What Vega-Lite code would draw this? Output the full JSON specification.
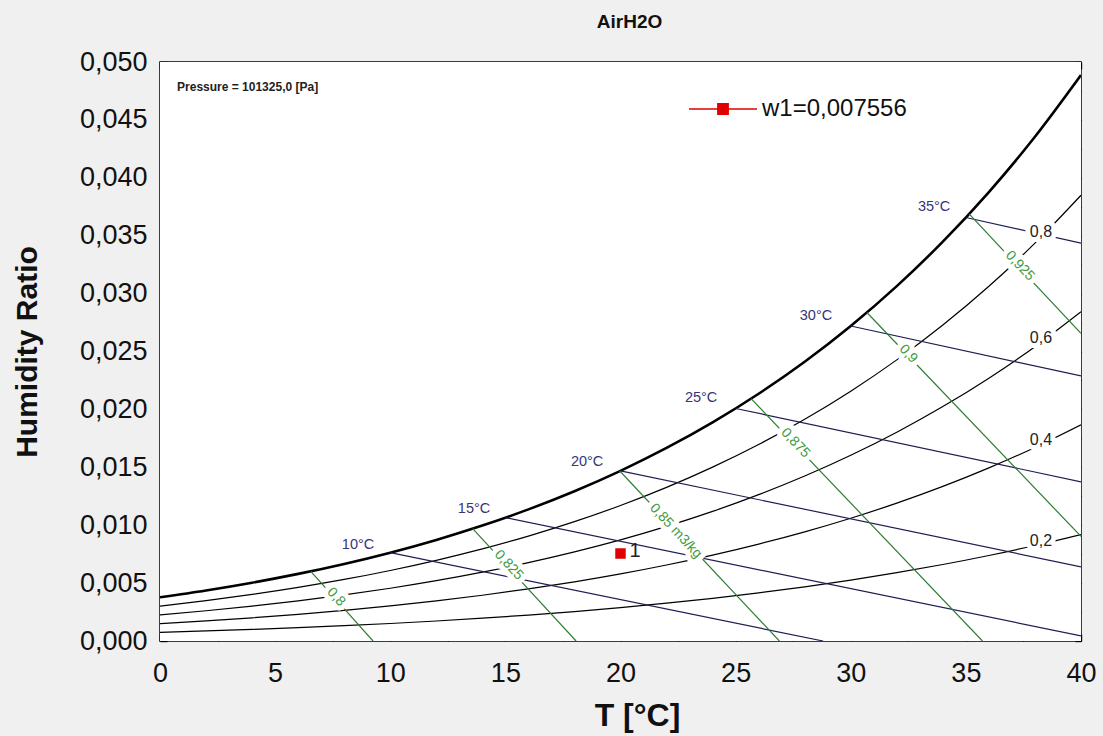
{
  "$schema": "https://vega.github.io/schema/vega-lite/v6.json",
  "width": 921,
  "height": 579,
  "autosize": {"type": "none"},
  "padding": {"left": 160, "top": 62, "right": 22, "bottom": 95},
  "background": "#f0f0f0",
  "title": {"text": "AirH2O", "fontSize": 19, "fontWeight": "bold", "font": "Liberation Sans", "color": "#111111", "anchor": "middle", "offset": 16, "dx": 9},
  "config": {
    "font": "Liberation Sans",
    "view": {"fill": null, "stroke": "black", "strokeWidth": 1.5},
    "axis": {"domain": false, "grid": false, "ticks": true, "zindex": 1, "labelFont": "Liberation Sans", "labelColor": "#111111", "labelFontSize": 27, "tickColor": "black", "tickOpacity": 1, "tickWidth": 1.4, "titleFont": "Liberation Sans", "titleColor": "#111111", "titleFontWeight": "bold", "labelFlush": false, "labelOverlap": false}
  },
  "datasets": {
    "plotArea": [
      {"T0": 0, "T1": 40, "w0": 0, "w1": 0.05}
    ],
    "sat": [
      {"T": 0, "w": 0.003775}, {"T": 2, "w": 0.004364}, {"T": 4, "w": 0.005034}, {"T": 6, "w": 0.005796},
      {"T": 8, "w": 0.006657}, {"T": 10, "w": 0.007631}, {"T": 12, "w": 0.008732}, {"T": 14, "w": 0.009972},
      {"T": 16, "w": 0.011367}, {"T": 18, "w": 0.012936}, {"T": 20, "w": 0.014696}, {"T": 22, "w": 0.016670},
      {"T": 24, "w": 0.018880}, {"T": 26, "w": 0.021352}, {"T": 28, "w": 0.024115}, {"T": 30, "w": 0.027202},
      {"T": 32, "w": 0.030646}, {"T": 34, "w": 0.034487}, {"T": 36, "w": 0.038770}, {"T": 38, "w": 0.043542},
      {"T": 40, "w": 0.048872}
    ],
    "rh": [
      {"rh": "0.2", "T": 0, "w": 0.000751}, {"rh": "0.2", "T": 2, "w": 0.000868}, {"rh": "0.2", "T": 4, "w": 0.001000},
      {"rh": "0.2", "T": 6, "w": 0.001151}, {"rh": "0.2", "T": 8, "w": 0.001320}, {"rh": "0.2", "T": 10, "w": 0.001511},
      {"rh": "0.2", "T": 12, "w": 0.001727}, {"rh": "0.2", "T": 14, "w": 0.001969}, {"rh": "0.2", "T": 16, "w": 0.002241},
      {"rh": "0.2", "T": 18, "w": 0.002545}, {"rh": "0.2", "T": 20, "w": 0.002885}, {"rh": "0.2", "T": 22, "w": 0.003264},
      {"rh": "0.2", "T": 24, "w": 0.003687}, {"rh": "0.2", "T": 26, "w": 0.004156}, {"rh": "0.2", "T": 28, "w": 0.004678},
      {"rh": "0.2", "T": 30, "w": 0.005256}, {"rh": "0.2", "T": 32, "w": 0.005897}, {"rh": "0.2", "T": 34, "w": 0.006605},
      {"rh": "0.2", "T": 36, "w": 0.007386}, {"rh": "0.2", "T": 38, "w": 0.008247}, {"rh": "0.2", "T": 40, "w": 0.009196},
      {"rh": "0.4", "T": 0, "w": 0.001504}, {"rh": "0.4", "T": 2, "w": 0.001738}, {"rh": "0.4", "T": 4, "w": 0.002004},
      {"rh": "0.4", "T": 6, "w": 0.002305}, {"rh": "0.4", "T": 8, "w": 0.002646}, {"rh": "0.4", "T": 10, "w": 0.003030},
      {"rh": "0.4", "T": 12, "w": 0.003463}, {"rh": "0.4", "T": 14, "w": 0.003951}, {"rh": "0.4", "T": 16, "w": 0.004498},
      {"rh": "0.4", "T": 18, "w": 0.005111}, {"rh": "0.4", "T": 20, "w": 0.005796}, {"rh": "0.4", "T": 22, "w": 0.006562},
      {"rh": "0.4", "T": 24, "w": 0.007417}, {"rh": "0.4", "T": 26, "w": 0.008369}, {"rh": "0.4", "T": 28, "w": 0.009427},
      {"rh": "0.4", "T": 30, "w": 0.010602}, {"rh": "0.4", "T": 32, "w": 0.011906}, {"rh": "0.4", "T": 34, "w": 0.013351},
      {"rh": "0.4", "T": 36, "w": 0.014949}, {"rh": "0.4", "T": 38, "w": 0.016715}, {"rh": "0.4", "T": 40, "w": 0.018669},
      {"rh": "0.6", "T": 0, "w": 0.002259}, {"rh": "0.6", "T": 2, "w": 0.002611}, {"rh": "0.6", "T": 4, "w": 0.003011},
      {"rh": "0.6", "T": 6, "w": 0.003464}, {"rh": "0.6", "T": 8, "w": 0.003977}, {"rh": "0.6", "T": 10, "w": 0.004556},
      {"rh": "0.6", "T": 12, "w": 0.005210}, {"rh": "0.6", "T": 14, "w": 0.005945}, {"rh": "0.6", "T": 16, "w": 0.006771},
      {"rh": "0.6", "T": 18, "w": 0.007698}, {"rh": "0.6", "T": 20, "w": 0.008735}, {"rh": "0.6", "T": 22, "w": 0.009896},
      {"rh": "0.6", "T": 24, "w": 0.011192}, {"rh": "0.6", "T": 26, "w": 0.012638}, {"rh": "0.6", "T": 28, "w": 0.014248},
      {"rh": "0.6", "T": 30, "w": 0.016040}, {"rh": "0.6", "T": 32, "w": 0.018032}, {"rh": "0.6", "T": 34, "w": 0.020243},
      {"rh": "0.6", "T": 36, "w": 0.022696}, {"rh": "0.6", "T": 38, "w": 0.025414}, {"rh": "0.6", "T": 40, "w": 0.028430},
      {"rh": "0.8", "T": 0, "w": 0.003016}, {"rh": "0.8", "T": 2, "w": 0.003487}, {"rh": "0.8", "T": 4, "w": 0.004021},
      {"rh": "0.8", "T": 6, "w": 0.004628}, {"rh": "0.8", "T": 8, "w": 0.005314}, {"rh": "0.8", "T": 10, "w": 0.006090},
      {"rh": "0.8", "T": 12, "w": 0.006966}, {"rh": "0.8", "T": 14, "w": 0.007952}, {"rh": "0.8", "T": 16, "w": 0.009061},
      {"rh": "0.8", "T": 18, "w": 0.010306}, {"rh": "0.8", "T": 20, "w": 0.011702}, {"rh": "0.8", "T": 22, "w": 0.013265},
      {"rh": "0.8", "T": 24, "w": 0.015013}, {"rh": "0.8", "T": 26, "w": 0.016965}, {"rh": "0.8", "T": 28, "w": 0.019144},
      {"rh": "0.8", "T": 30, "w": 0.021572}, {"rh": "0.8", "T": 32, "w": 0.024277}, {"rh": "0.8", "T": 34, "w": 0.027287},
      {"rh": "0.8", "T": 36, "w": 0.030634}, {"rh": "0.8", "T": 38, "w": 0.034353}, {"rh": "0.8", "T": 40, "w": 0.038493}
    ],
    "wb": [
      {"wb": 10, "T": 10, "w": 0.007631}, {"wb": 10, "T": 28.8, "w": 0},
      {"wb": 15, "T": 15, "w": 0.010649}, {"wb": 15, "T": 40, "w": 0.000443},
      {"wb": 20, "T": 20, "w": 0.014696}, {"wb": 20, "T": 40, "w": 0.006402},
      {"wb": 25, "T": 25, "w": 0.020081}, {"wb": 25, "T": 40, "w": 0.013748},
      {"wb": 30, "T": 30, "w": 0.027202}, {"wb": 30, "T": 40, "w": 0.02289},
      {"wb": 35, "T": 35, "w": 0.036571}, {"wb": 35, "T": 40, "w": 0.03436}
    ],
    "vol": [
      {"v": 0.8, "T": 6.55, "w": 0.00602}, {"v": 0.8, "T": 9.25, "w": 0},
      {"v": 0.825, "T": 13.58, "w": 0.0097}, {"v": 0.825, "T": 18.07, "w": 0},
      {"v": 0.85, "T": 19.97, "w": 0.01468}, {"v": 0.85, "T": 26.9, "w": 0},
      {"v": 0.875, "T": 25.67, "w": 0.02093}, {"v": 0.875, "T": 35.72, "w": 0},
      {"v": 0.9, "T": 30.7, "w": 0.02837}, {"v": 0.9, "T": 40, "w": 0.00903},
      {"v": 0.925, "T": 35.14, "w": 0.03688}, {"v": 0.925, "T": 40, "w": 0.02656}
    ],
    "wbLabels": [
      {"T": 8.6, "w": 0.00829, "text": "10°C"},
      {"T": 13.64, "w": 0.0114, "text": "15°C"},
      {"T": 18.55, "w": 0.01546, "text": "20°C"},
      {"T": 23.5, "w": 0.02099, "text": "25°C"},
      {"T": 28.49, "w": 0.02807, "text": "30°C"},
      {"T": 33.62, "w": 0.03748, "text": "35°C"}
    ],
    "rhLabels": [
      {"T": 38.26, "w": 0.03532, "text": "0,8"},
      {"T": 38.26, "w": 0.02617, "text": "0,6"},
      {"T": 38.26, "w": 0.01736, "text": "0,4"},
      {"T": 38.26, "w": 0.00864, "text": "0,2"}
    ],
    "volLabels": [
      {"T": 7.65, "w": 0.0038, "text": "0,8"},
      {"T": 15.15, "w": 0.00656, "text": "0,825"},
      {"T": 22.4, "w": 0.0095, "text": "0,85 m3/kg"},
      {"T": 27.6, "w": 0.0171, "text": "0,875"},
      {"T": 32.5, "w": 0.02479, "text": "0,9"},
      {"T": 37.35, "w": 0.03239, "text": "0,925"}
    ],
    "state": [
      {"T": 20, "w": 0.007556, "name": "w1=0,007556", "label": "1"}
    ],
    "note": [
      {"T": 0.74, "w": 0.04784, "text": "Pressure = 101325,0 [Pa]"}
    ]
  },
  "resolve": {"axis": {"x": "independent", "y": "independent"}},
  "layer": [
    {
      "data": {"name": "plotArea"},
      "mark": {"type": "rect", "color": "white", "opacity": 1},
      "encoding": {
        "x": {"field": "T0", "type": "quantitative", "axis": null},
        "x2": {"field": "T1"},
        "y": {"field": "w0", "type": "quantitative", "axis": null},
        "y2": {"field": "w1"}
      }
    },
    {
      "data": {"name": "sat"},
      "mark": {"type": "line", "color": "#000000", "strokeWidth": 2.6, "interpolate": "monotone", "clip": true},
      "encoding": {
        "x": {"field": "T", "type": "quantitative", "scale": {"domain": [0, 40], "nice": false, "zero": false},
          "axis": {"orient": "bottom", "values": [0, 5, 10, 15, 20, 25, 30, 35, 40], "format": "d", "tickSize": 7, "offset": -7,
            "labelPadding": 19, "title": "T [°C]", "titleFontSize": 32, "titlePadding": 14, "titleX": 477}},
        "y": {"field": "w", "type": "quantitative", "scale": {"domain": [0, 0.05], "nice": false, "zero": false},
          "axis": {"orient": "left", "values": [0, 0.005, 0.01, 0.015, 0.02, 0.025, 0.03, 0.035, 0.04, 0.045, 0.05],
            "labelExpr": "replace(format(datum.value, '.3f'), '.', ',')", "tickSize": 7, "offset": -7,
            "labelPadding": 13, "title": "Humidity Ratio", "titleFontSize": 30, "titlePadding": 37}}
      }
    },
    {
      "data": {"name": "rh"},
      "mark": {"type": "line", "color": "#000000", "strokeWidth": 1.2, "interpolate": "monotone", "clip": true},
      "encoding": {
        "x": {"field": "T", "type": "quantitative",
          "axis": {"orient": "top", "values": [0, 2.5, 5, 7.5, 10, 12.5, 15, 17.5, 20, 22.5, 25, 27.5, 30, 32.5, 35, 37.5, 40], "labels": false, "title": null, "tickSize": 7, "offset": -7}},
        "y": {"field": "w", "type": "quantitative",
          "axis": {"orient": "right", "values": [0, 0.0025, 0.005, 0.0075, 0.01, 0.0125, 0.015, 0.0175, 0.02, 0.0225, 0.025, 0.0275, 0.03, 0.0325, 0.035, 0.0375, 0.04, 0.0425, 0.045, 0.0475, 0.05], "labels": false, "title": null, "tickSize": 6, "offset": -6}},
        "detail": {"field": "rh"}
      }
    },
    {
      "data": {"name": "wb"},
      "mark": {"type": "line", "color": "#1e1e55", "strokeWidth": 1.2, "clip": true},
      "encoding": {
        "x": {"field": "T", "type": "quantitative",
          "axis": {"orient": "bottom", "values": [2.5, 7.5, 12.5, 17.5, 22.5, 27.5, 32.5, 37.5], "labels": false, "title": null, "tickSize": 4, "offset": -4}},
        "y": {"field": "w", "type": "quantitative",
          "axis": {"orient": "left", "values": [0.0025, 0.0075, 0.0125, 0.0175, 0.0225, 0.0275, 0.0325, 0.0375, 0.0425, 0.0475], "labels": false, "title": null, "tickSize": 4, "offset": -4}},
        "detail": {"field": "wb"}
      }
    },
    {
      "data": {"name": "vol"},
      "mark": {"type": "line", "color": "#2e7d32", "strokeWidth": 1.2, "clip": true},
      "encoding": {
        "x": {"field": "T", "type": "quantitative", "axis": null},
        "y": {"field": "w", "type": "quantitative", "axis": null},
        "detail": {"field": "v"}
      }
    },
    {
      "data": {"name": "rhLabels"},
      "mark": {"type": "text", "fontSize": 16, "fill": "white", "stroke": "white", "strokeWidth": 10, "strokeJoin": "round", "align": "center", "baseline": "middle"},
      "encoding": {
        "x": {"field": "T", "type": "quantitative", "axis": null},
        "y": {"field": "w", "type": "quantitative", "axis": null},
        "text": {"field": "text"}
      }
    },
    {
      "data": {"name": "volLabels"},
      "mark": {"type": "text", "fontSize": 14, "angle": 47, "fill": "white", "stroke": "white", "strokeWidth": 10, "strokeJoin": "round", "align": "center", "baseline": "middle"},
      "encoding": {
        "x": {"field": "T", "type": "quantitative", "axis": null},
        "y": {"field": "w", "type": "quantitative", "axis": null},
        "text": {"field": "text"}
      }
    },
    {
      "data": {"name": "rhLabels"},
      "mark": {"type": "text", "fontSize": 16, "color": "#222222", "align": "center", "baseline": "middle"},
      "encoding": {
        "x": {"field": "T", "type": "quantitative", "axis": null},
        "y": {"field": "w", "type": "quantitative", "axis": null},
        "text": {"field": "text"}
      }
    },
    {
      "data": {"name": "volLabels"},
      "mark": {"type": "text", "fontSize": 14, "angle": 47, "color": "#3d9b3d", "align": "center", "baseline": "middle"},
      "encoding": {
        "x": {"field": "T", "type": "quantitative", "axis": null},
        "y": {"field": "w", "type": "quantitative", "axis": null},
        "text": {"field": "text"}
      }
    },
    {
      "data": {"name": "wbLabels"},
      "mark": {"type": "text", "fontSize": 14.5, "color": "#35357a", "align": "center", "baseline": "middle"},
      "encoding": {
        "x": {"field": "T", "type": "quantitative", "axis": null},
        "y": {"field": "w", "type": "quantitative", "axis": null},
        "text": {"field": "text"}
      }
    },
    {
      "data": {"name": "note"},
      "mark": {"type": "text", "fontSize": 12, "fontWeight": "bold", "color": "#222222", "align": "left", "baseline": "middle"},
      "encoding": {
        "x": {"field": "T", "type": "quantitative", "axis": null},
        "y": {"field": "w", "type": "quantitative", "axis": null},
        "text": {"field": "text"}
      }
    },
    {
      "data": {"name": "state"},
      "mark": {"type": "text", "fontSize": 20, "color": "#222222", "align": "left", "baseline": "middle", "dx": 9, "dy": -3},
      "encoding": {
        "x": {"field": "T", "type": "quantitative", "axis": null},
        "y": {"field": "w", "type": "quantitative", "axis": null},
        "text": {"field": "label"}
      }
    },
    {
      "data": {"name": "state"},
      "mark": {"type": "point", "shape": "square", "filled": true, "size": 110, "opacity": 1},
      "encoding": {
        "x": {"field": "T", "type": "quantitative", "axis": null},
        "y": {"field": "w", "type": "quantitative", "axis": null},
        "color": {"field": "name", "type": "nominal", "scale": {"range": ["#e00000"]},
          "legend": {"orient": "none", "legendX": 528, "legendY": 12, "title": null,
            "symbolType": "M-1,0H1M-0.15,-0.15H0.15V0.15H-0.15Z", "symbolSize": 4624,
            "symbolStrokeColor": "#e00000", "symbolStrokeWidth": 1.6,
            "labelFontSize": 24, "labelFont": "Liberation Sans", "labelColor": "#111111", "labelOffset": 4, "padding": 0, "labelLimit": 400,
            "encode": {"symbols": {"update": {"stroke": {"value": "#d00000"}, "strokeWidth": {"value": 1.6}, "strokeOpacity": {"value": 1}, "fill": {"value": "#e00000"}, "opacity": {"value": 1}}}}}}
      }
    }
  ]
}
